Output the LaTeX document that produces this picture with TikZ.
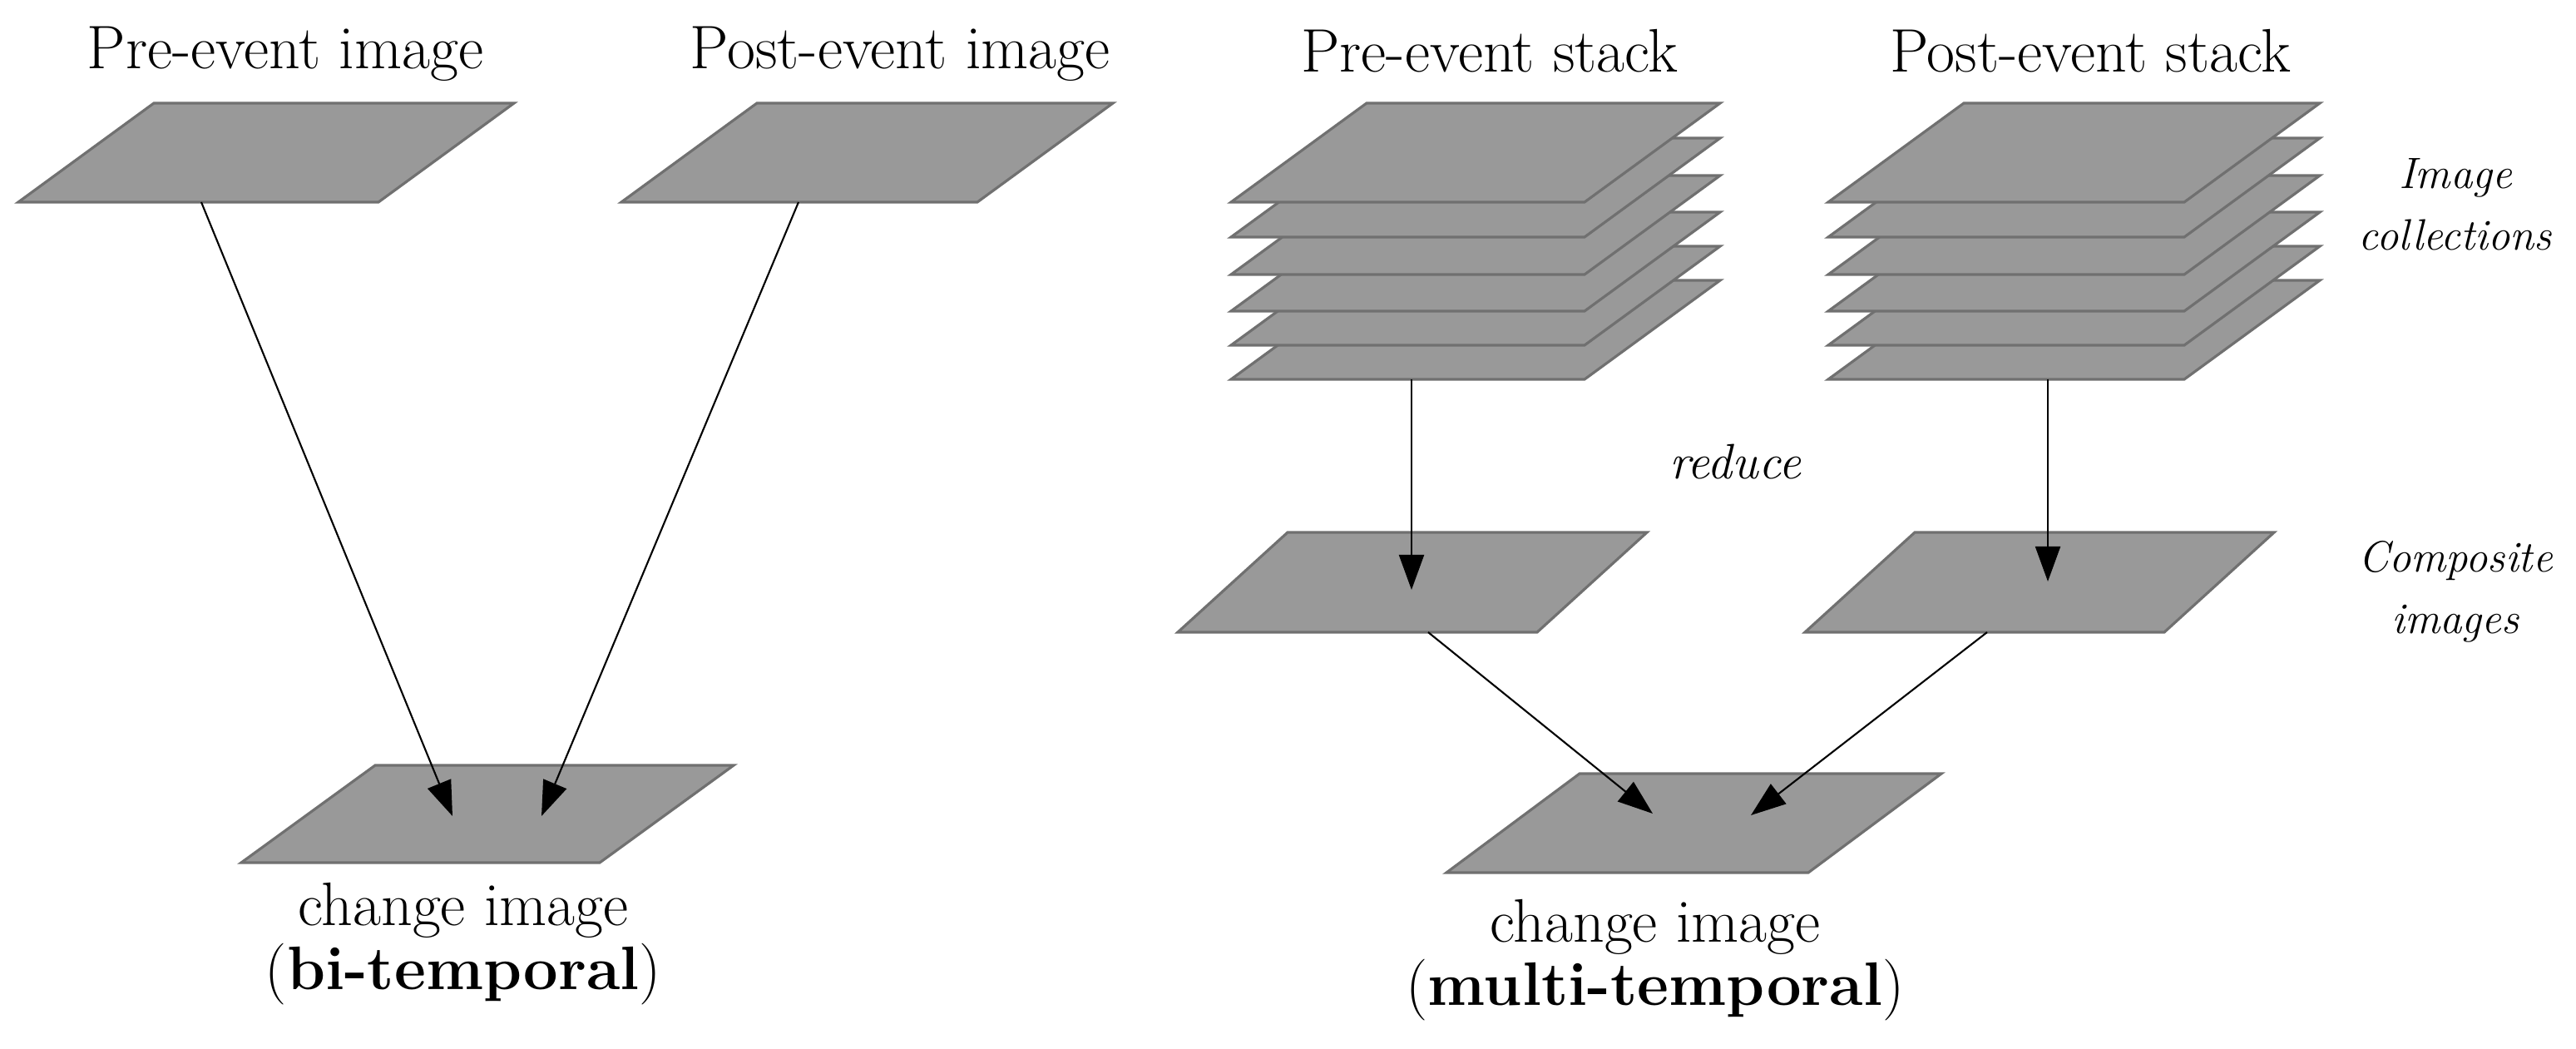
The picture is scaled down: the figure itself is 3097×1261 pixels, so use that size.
\documentclass[tikz,border=0pt]{standalone}
\usetikzlibrary{arrows.meta}
\definecolor{plfill}{HTML}{999999}
\definecolor{pledge}{HTML}{707070}
\tikzset{
  plate/.style={fill=plfill,draw=pledge,line width=0.9pt},
  conn/.style={draw=black,line width=0.6pt,-{Triangle[length=0.42cm,width=0.3cm]}},
  lbl/.style={font=\fontsize{21}{25}\selectfont,inner sep=0pt},
  side/.style={font=\fontsize{15}{19}\selectfont\itshape,inner sep=0pt,align=center},
}
% bottom-left x, y, width, skew, height
\newcommand\myplate[5]{\path[plate] (#1,#2) -- ++(#3,0) -- ++(#4,-#5) -- ++(-#3,0) -- cycle;}
\begin{document}
\begin{tikzpicture}[x=0.01cm,y=-0.01cm]
\useasboundingbox (0,0) rectangle (3097,1261);
% left part
\myplate{22}{243}{433}{163}{119}
\myplate{747}{243}{428}{163}{119}
\myplate{290}{1037}{431}{161}{117}
\node[lbl] (t1) at (343,65) {Pre-event image};
\node[lbl] (t2) at (1082,65) {Post-event image};
\node[lbl] (t3) at (557,1094) {change image};
\node[lbl] (t4) at (557,1171) {(\textbf{bi-temporal})};
\coordinate (a1s) at (242,243); \coordinate (a1e) at (544,981);
\coordinate (a2s) at (960,243); \coordinate (a2e) at (651,981);
\draw[conn] (a1s) -- (a1e);
\draw[conn] (a2s) -- (a2e);
% right part: stacks
\foreach \yy in {456,415,374,330,285,243}{
  \myplate{1480}{\yy}{425}{163}{119}
  \myplate{2198}{\yy}{428}{163}{119}
}
\myplate{1416}{760}{432}{132}{120}
\myplate{2170}{760}{432}{132}{120}
\myplate{1739}{1049}{435}{160}{119}
\node[lbl] (t5) at (1791,61) {Pre-event stack};
\node[lbl] (t6) at (2513,61) {Post-event stack};
\node[side] (t7) at (2952,246) {Image\\[2pt]collections};
\node[side,font=\fontsize{17}{20}\selectfont\itshape] (t8) at (2086,555) {reduce};
\node[side] (t9) at (2952,711) {Composite\\[2pt]images};
\node[lbl] (t10) at (1990,1114) {change image};
\node[lbl] (t11) at (1990,1190) {(\textbf{multi-temporal})};
\coordinate (b1s) at (1697,456); \coordinate (b1e) at (1697,709);
\coordinate (b2s) at (2462,456); \coordinate (b2e) at (2462,699);
\coordinate (c1s) at (1717,760); \coordinate (c1e) at (1987,978);
\coordinate (c2s) at (2389,760); \coordinate (c2e) at (2105,980);
\draw[conn] (b1s) -- (b1e);
\draw[conn] (b2s) -- (b2e);
\draw[conn] (c1s) -- (c1e);
\draw[conn] (c2s) -- (c2e);
\end{tikzpicture}
\end{document}
